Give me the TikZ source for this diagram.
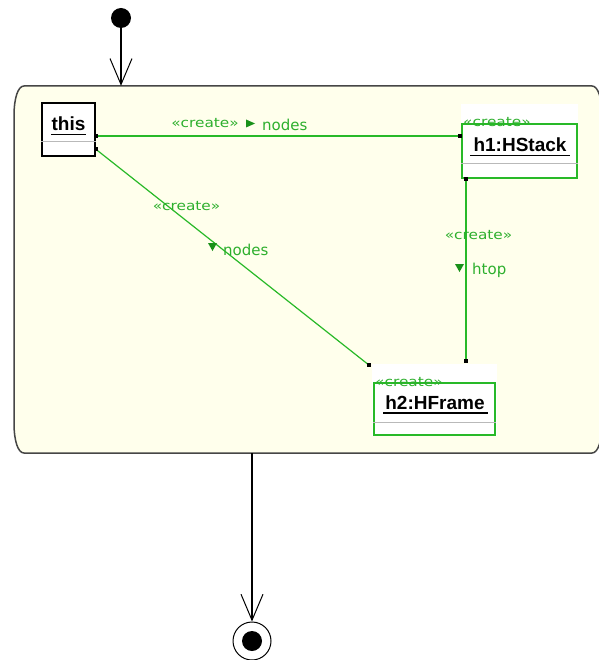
\documentclass[tikz,border=0pt]{standalone}
\usepackage{fontspec}
\setmainfont{DejaVu Sans}
\newfontfamily\stereofont{DejaVu Sans}[FakeStretch=1.18]
\newfontfamily\namefont{Liberation Sans}
\usetikzlibrary{arrows.meta}
\definecolor{umlgreen}{RGB}{40,185,40}
\definecolor{txtgreen}{RGB}{45,175,45}
\definecolor{trigreen}{RGB}{25,145,25}
\definecolor{cream}{RGB}{255,255,236}
\definecolor{edge}{RGB}{70,70,70}
\definecolor{sepgray}{RGB}{185,185,185}
\tikzset{
  flow/.style={draw=black, line width=1.1pt, -{Straight Barb[length=26pt,width=22pt,line width=1pt]}},
  conn/.style={draw=umlgreen, line width=1.2pt},
  endsq/.style={fill=black, inner sep=0pt, minimum size=4pt, rectangle},
  objbox/.style={rectangle, inner sep=0pt, line width=1.1pt},
  stereo/.style={text=txtgreen, inner sep=0pt, anchor=base, font=\stereofont\fontsize{13}{15}\selectfont},
  rolename/.style={text=txtgreen, inner sep=0pt, anchor=base, font=\fontsize{15}{18}\selectfont},
  objname/.style={inner sep=0pt, anchor=base, font=\namefont\bfseries\fontsize{19}{22}\selectfont},
  tri/.style={fill=trigreen}
}
\begin{document}
\begin{tikzpicture}[x=1pt,y=-1pt]
\useasboundingbox[fill=white] (0,0) rectangle (598,660);

% activity (action state)
\node[minimum width=588pt, minimum height=367pt, inner sep=0pt] (act) at (308,269.5) {};
\draw[edge, fill=cream, line width=1.5pt]
  (24,86) -- (592,86) .. controls (598,86) and (602,98) .. (602,116)
  -- (602,423) .. controls (602,441) and (598,453) .. (592,453)
  -- (24,453) .. controls (18,453) and (14,441) .. (14,423)
  -- (14,116) .. controls (14,98) and (18,86) .. (24,86) -- cycle;

% initial and final states
\node[circle, fill=black, minimum size=20pt, inner sep=0pt] (init) at (121,18) {};
\node[circle, draw=black, line width=1pt, minimum size=38pt, inner sep=0pt] (final) at (252,641) {};
\node[circle, fill=black, minimum size=20pt, inner sep=0pt] (finaldot) at (final.center) {};
\draw[flow] (init) -- (init |- act.north);
\draw[flow] (act.south -| final) -- (final.north);

% white backgrounds of created objects
\fill[white] (461,104) rectangle (578,179);
\fill[white] (372,364) rectangle (497,436);

% objects
\node[objbox, draw=black, fill=white, minimum width=53pt, minimum height=53pt] (this) at (68.5,129.5) {};
\node[objbox, draw=umlgreen, minimum width=115pt, minimum height=54pt] (h1) at (519.5,151) {};
\node[objbox, draw=umlgreen, minimum width=121pt, minimum height=52pt] (h2) at (434.5,409) {};

% compartments and names
\draw[sepgray, line width=1pt] (this.west |- 0,142) -- (this.east |- 0,142);
\draw[sepgray, line width=1pt] (h1.west |- 0,164) -- (h1.east |- 0,164);
\draw[sepgray, line width=1pt] (h2.west |- 0,422) -- (h2.east |- 0,422);
\node[objname] (thisname) at (68.5,131) {this};
\draw[black, line width=1.1pt] (51,134.5) -- (86,134.5);
\node[objname] (h1name) at (520,152) {h1:HStack};
\draw[black, line width=1.1pt] (470,155.5) -- (570,155.5);
\node[objname] (h2name) at (435,409) {h2:HFrame};
\draw[black, line width=1.1pt] (383,413) -- (488,413);
\node[stereo, anchor=base west] (h1st) at (463,127) {«create»};
\node[stereo, anchor=base west] (h2st) at (375,386) {«create»};

% connectors
\draw[conn] ([yshift=-6.5pt]this.east) -- ([xshift=-1pt]h1.west |- 0,136)
  node[pos=0, endsq] {} node[pos=1, endsq] {};
\draw[conn] ([yshift=-19.5pt]this.east) -- ([xshift=-4pt,yshift=17pt]h2.north west)
  node[pos=0, endsq] {} node[pos=1, endsq] {};
\draw[conn] ([xshift=-53.5pt]h1.south) -- ([xshift=31.5pt,yshift=21pt]h2.north)
  node[pos=0, endsq] {} node[pos=1, endsq] {};

% connector labels
\node[stereo] (l1st) at (205,128) {«create»};
\fill[tri] (246,119.5) -- (255,123.5) -- (246,127.5) -- cycle;
\node[rolename, anchor=base west] (l1role) at (262,131) {nodes};

\node[stereo] (l2st) at (186.5,211) {«create»};
\fill[tri] (208,243) -- (217,243) -- (212.5,251) -- cycle;
\node[rolename, anchor=base west] (l2role) at (223,255) {nodes};

\node[stereo] (l3st) at (478.5,239) {«create»};
\fill[tri] (455,264) -- (464,264) -- (459.5,272) -- cycle;
\node[rolename, anchor=base west] (l3role) at (472,274) {htop};
\end{tikzpicture}
\end{document}
